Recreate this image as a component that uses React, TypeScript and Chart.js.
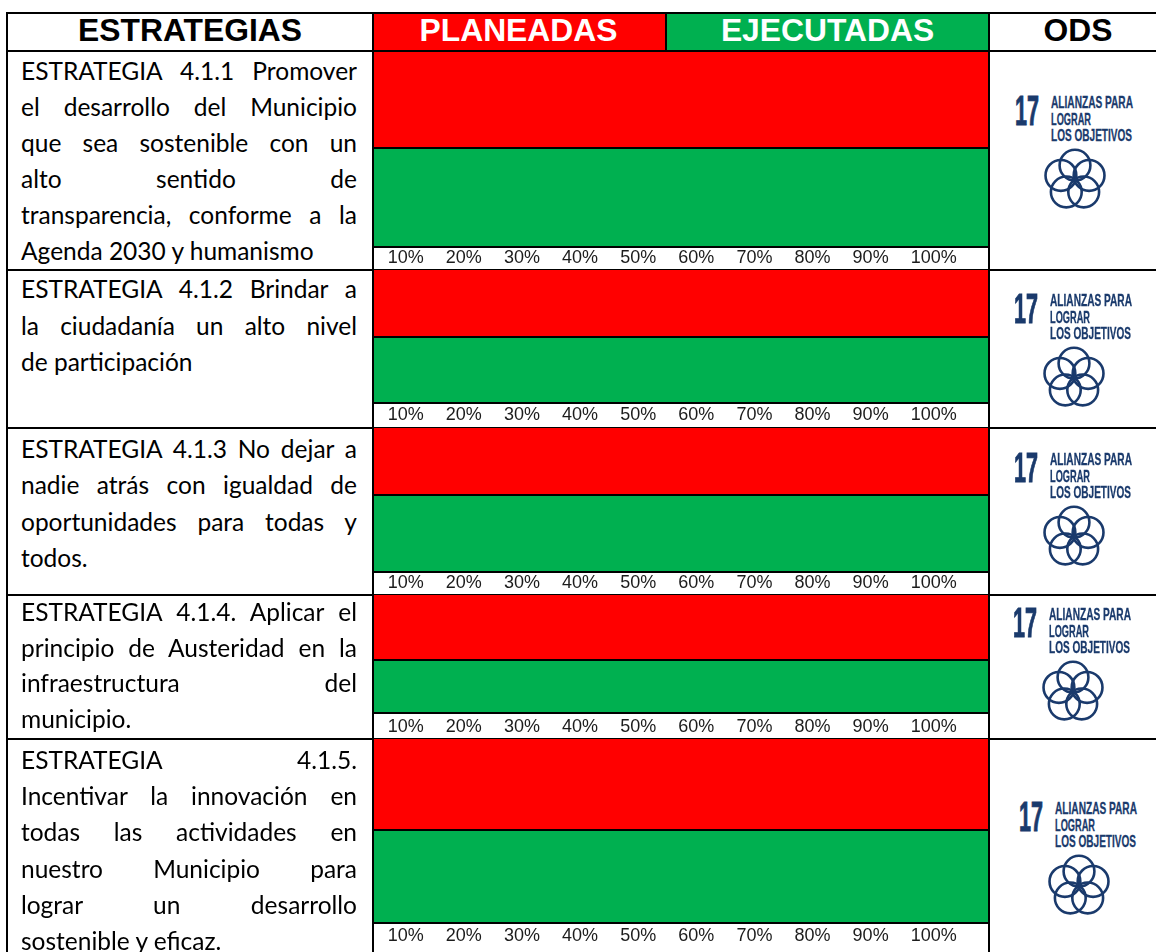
import React, { useEffect, useRef } from "react";
import { Chart, registerables } from "chart.js";

Chart.register(...registerables);

// ---- chart data ----
const bandLabels = ["Planeadas", "Ejecutadas"];
const planeadas = [100, 100, 100, 100, 100];
const ejecutadas = [100, 100, 100, 100, 100];
const tickLabels = ["10%", "20%", "30%", "40%", "50%", "60%", "70%", "80%", "90%", "100%"];
const headerLabels = ["ESTRATEGIAS", "PLANEADAS", "EJECUTADAS", "ODS"];
const estrategias = [
  ["ESTRATEGIA 4.1.1 Promover", "el desarrollo del Municipio", "que sea sostenible con un", "alto sentido de", "transparencia, conforme a la", "Agenda 2030 y humanismo"],
  ["ESTRATEGIA 4.1.2 Brindar a", "la ciudadanía un alto nivel", "de participación"],
  ["ESTRATEGIA 4.1.3 No dejar a", "nadie atrás con igualdad de", "oportunidades para todas y", "todos."],
  ["ESTRATEGIA 4.1.4. Aplicar el", "principio de Austeridad en la", "infraestructura del", "municipio."],
  ["ESTRATEGIA 4.1.5.", "Incentivar la innovación en", "todas las actividades en", "nuestro Municipio para", "lograr un desarrollo", "sostenible y eficaz."],
];
const odsNumber = "17";
const odsLines = ["ALIANZAS PARA", "LOGRAR", "LOS OBJETIVOS"];

// ---- layout ----
const RED = "#FF0000";
const GREEN = "#00B050";
const NAVY = "#1A3A6C";
const PLOT_LEFT = 373;
const PLOT_W = 616;
const TICK_MAX = 106;
const rowGeom = [
  { top: 51, mid: 148, bottom: 247, end: 270, tickPad: 1, textTop: 53, lh: 36, logoX: 1015, logoY: 95 },
  { top: 270, mid: 337, bottom: 403, end: 428, tickPad: 2, textTop: 271, lh: 36.5, logoX: 1014.3, logoY: 293 },
  { top: 428, mid: 495, bottom: 572, end: 595, tickPad: 1, textTop: 431, lh: 36.3, logoX: 1014.3, logoY: 452 },
  { top: 595, mid: 660, bottom: 713, end: 739, tickPad: 4, textTop: 594, lh: 35.6, logoX: 1012.7, logoY: 606.7 },
  { top: 739, mid: 830, bottom: 923, end: 952, tickPad: 3, textTop: 742, lh: 36.2, logoX: 1019, logoY: 800.7 },
];

function BandChart(props: { label: string; value: number; color: string; top: number; height: number; axisHeight: number; tickPad: number }) {
  const ref = useRef<HTMLCanvasElement | null>(null);
  useEffect(() => {
    const scales: any = {
      x: { display: false, min: 0, max: 100 },
      y: { display: false },
    };
    if (props.axisHeight > 0) {
      scales.tickAxis = {
        axis: "x",
        position: "bottom",
        min: 0,
        max: TICK_MAX,
        grid: { display: false, drawTicks: false },
        border: { display: false },
        afterFit: (s: any) => { s.height = props.axisHeight; },
        ticks: {
          stepSize: 10,
          includeBounds: false,
          autoSkip: false,
          maxRotation: 0,
          minRotation: 0,
          padding: props.tickPad - 1,
          labelOffset: -25.4,
          color: "#1c1c1c",
          font: { family: "'Liberation Sans', Arial, sans-serif", size: 18 },
          callback: (v: any) => {
            if (v < 10 || v > 100) return null;
            const t = tickLabels[Math.round(v / 10) - 1];
            return v === 100 ? "  " + t : t;
          },
        },
      };
    }
    const chart = new Chart(ref.current as HTMLCanvasElement, {
      type: "bar",
      data: {
        labels: [props.label],
        datasets: [{
          label: props.label,
          data: [props.value],
          backgroundColor: props.color,
          borderWidth: 0,
          categoryPercentage: 1,
          barPercentage: 1,
          xAxisID: "x",
          yAxisID: "y",
        }],
      },
      options: {
        indexAxis: "y",
        responsive: false,
        animation: false,
        maintainAspectRatio: false,
        layout: { padding: 0 },
        plugins: { legend: { display: false }, tooltip: { enabled: false }, title: { display: false } },
        scales,
      },
    });
    return () => chart.destroy();
  }, []);
  return (
    <canvas
      ref={ref}
      width={PLOT_W}
      height={props.height}
      style={{ position: "absolute", left: PLOT_LEFT, top: props.top, width: PLOT_W, height: props.height, display: "block" }}
    />
  );
}

function Line(p: { x: number; y: number; w: number; h: number }) {
  return <div style={{ position: "absolute", left: p.x, top: p.y, width: p.w, height: p.h, background: "#000" }} />;
}

function HeaderText(p: { text: string; cx: number; color: string }) {
  return (
    <div style={{ position: "absolute", left: p.cx - 160, width: 320, top: 12, height: 37, lineHeight: "37px", textAlign: "center", color: p.color, fontFamily: "'Liberation Sans', Arial, sans-serif", fontWeight: 700, fontSize: 31.8 }}>
      {p.text}
    </div>
  );
}

function OdsLogo(p: { x: number; y: number }) {
  const petals = [0, 1, 2, 3, 4].map((k) => {
    const a = ((-90 + 72 * k) * Math.PI) / 180;
    return { cx: 60 + 14.8 * Math.cos(a), cy: 85 + 14.8 * Math.sin(a) };
  });
  const font = "'Liberation Sans Narrow', 'Liberation Sans', sans-serif";
  return (
    <svg width={130} height={125} style={{ position: "absolute", left: p.x, top: p.y, overflow: "visible" }}>
      <text x={0} y={30} fontFamily={font} fontWeight={700} fontSize={42} fill={NAVY} stroke={NAVY} strokeWidth={1} textLength={24} lengthAdjust="spacingAndGlyphs">{odsNumber}</text>
      {odsLines.map((t, i) => (
        <text key={t} x={36} y={[13, 29.5, 46][i]} fontFamily={font} fontWeight={700} fontSize={16.5} fill={NAVY} stroke={NAVY} strokeWidth={0.3} textLength={[82, 40, 81][i]} lengthAdjust="spacingAndGlyphs">{t}</text>
      ))}
      {petals.map((c, i) => (
        <circle key={i} cx={c.cx} cy={c.cy} r={15.4} fill="none" stroke={NAVY} strokeWidth={2.6} />
      ))}
    </svg>
  );
}

export default function App() {
  useEffect(() => {
    document.body.style.margin = "0";
    document.body.style.background = "#fff";
  }, []);
  const lastRowIdx = rowGeom.length - 1;
  return (
    <div style={{ position: "relative", width: 1156, height: 952, overflow: "hidden", background: "#fff" }}>
      <div style={{ position: "absolute", left: 373, top: 13, width: 293, height: 38, background: RED }} />
      <div style={{ position: "absolute", left: 666, top: 13, width: 323, height: 38, background: GREEN }} />
      <HeaderText text={headerLabels[0]} cx={190} color="#000" />
      <HeaderText text={headerLabels[1]} cx={518.5} color="#fff" />
      <HeaderText text={headerLabels[2]} cx={827.5} color="#fff" />
      <HeaderText text={headerLabels[3]} cx={1078} color="#000" />

      {rowGeom.map((r, i) => (
        <React.Fragment key={i}>
          <BandChart label={bandLabels[0]} value={planeadas[i]} color={RED} top={r.top} height={r.mid - r.top} axisHeight={0} tickPad={0} />
          <BandChart label={bandLabels[1]} value={ejecutadas[i]} color={GREEN} top={r.mid} height={r.end - r.mid} axisHeight={r.end - r.bottom} tickPad={r.tickPad} />
          <Line x={PLOT_LEFT} y={r.mid - 1} w={PLOT_W} h={2} />
          <Line x={PLOT_LEFT} y={r.bottom - 1} w={PLOT_W} h={2} />
          {i < lastRowIdx && <Line x={0 + 6} y={r.end - 1} w={1150} h={2} />}
          <div style={{ position: "absolute", left: 21, top: r.textTop, width: 336, color: "#000", fontFamily: "Lato, Carlito, sans-serif", fontSize: 24.5 }}>
            {estrategias[i].map((t, j) => {
              const last = j === estrategias[i].length - 1;
              return (
                <div key={j} style={{ height: r.lh, lineHeight: `${r.lh}px`, textAlign: last ? "left" : "justify", textAlignLast: last ? "left" : "justify", overflow: "hidden" }}>
                  {t}
                </div>
              );
            })}
          </div>
          <OdsLogo x={r.logoX} y={r.logoY} />
        </React.Fragment>
      ))}

      <Line x={6} y={12} w={1150} h={2} />
      <Line x={6} y={50} w={1150} h={2} />
      <Line x={6} y={12} w={2} h={940} />
      <Line x={372} y={12} w={2} h={940} />
      <Line x={665} y={12} w={2} h={39} />
      <Line x={988} y={12} w={2} h={940} />
    </div>
  );
}
